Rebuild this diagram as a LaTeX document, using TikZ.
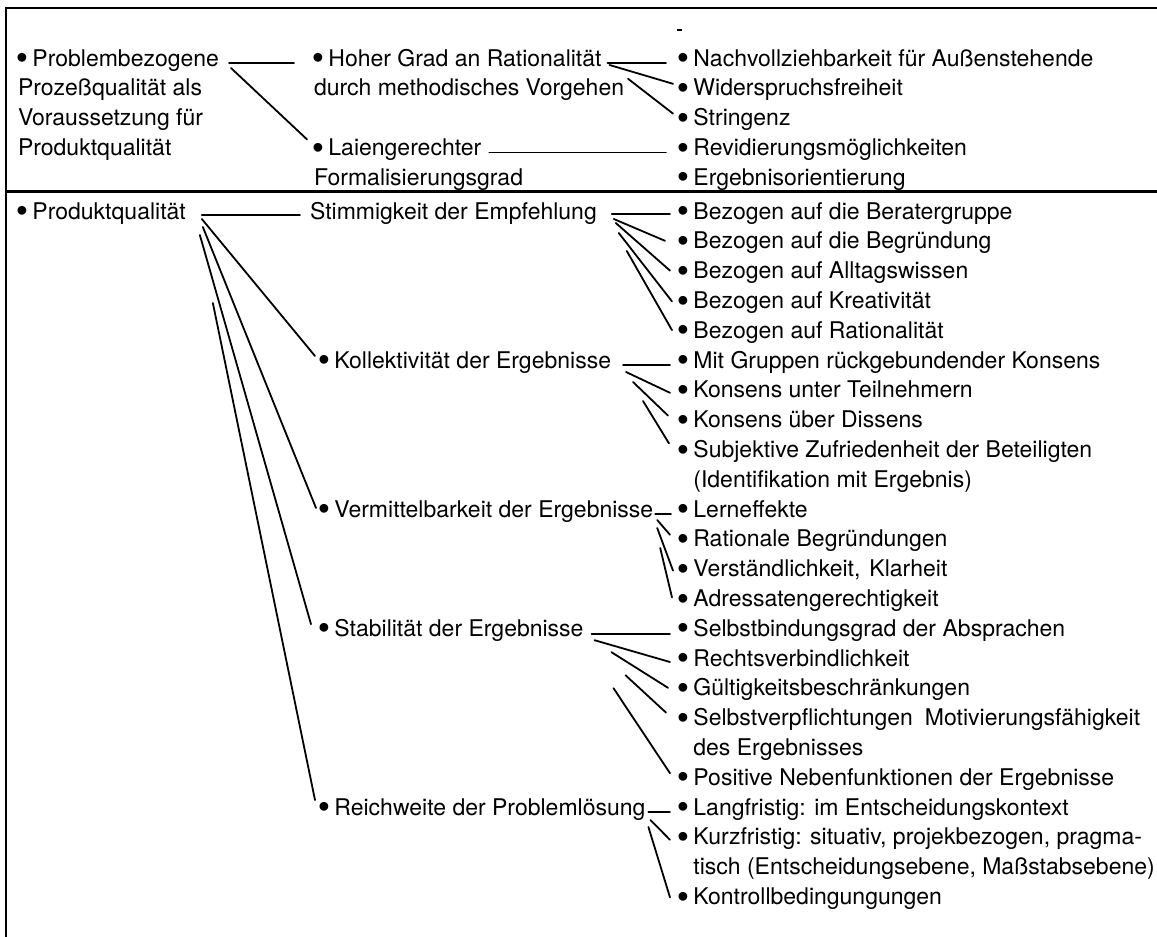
\documentclass[tikz,border=0pt]{standalone}
\usepackage{graphicx}
\usepackage{fontspec}
\setmainfont{TeX Gyre Heros}
\newfontfamily\bulfont{Liberation Sans}
\newcommand\bu{\makebox[8.05pt][c]{\raisebox{-2.6pt}{\scalebox{1.4}{\bulfont •}}}}
\usetikzlibrary{calc}
\begin{document}
\begin{tikzpicture}[x=1pt,y=-1pt,
  txt/.style={anchor=base west,inner sep=0pt,outer sep=0pt,font=\fontsize{23}{28}\selectfont},
  conn/.style={line width=1.8pt,line cap=round},
  frame/.style={line width=1.6pt}]
\useasboundingbox[fill=white] (0,0) rectangle (1157,937);
% frame
\draw[frame] (5,8) -- (1157,8);
\draw[frame] (6,8) -- (6,937);
\draw[line width=3pt] (5,191) -- (1157,191);
\draw[line width=1.2pt] (677,30) -- (682,30);
% ---------- top section ----------
\node[txt] (p1) at (18,66) {\bu{} Problembezogene};
\node[txt] (p2) at (18,95.8) {Prozeßqualität als};
\node[txt] (p3) at (18,125.6) {Voraussetzung für};
\node[txt] (p4) at (18,155.4) {Produktqualität};
\node[txt] (h1) at (314,66) {\bu{} Hoher Grad an Rationalität};
\node[txt] (h2) at (314,95.8) {durch methodisches Vorgehen};
\node[txt] (l1) at (314,155.4) {\bu{} Laiengerechter};
\node[txt] (l2) at (314,185.2) {Formalisierungsgrad};
\node[txt] (n1) at (679,66) {\bu{} Nachvollziehbarkeit für Außenstehende};
\node[txt] (n2) at (679,95.8) {\bu{} Widerspruchsfreiheit};
\node[txt] (n3) at (679,125.6) {\bu{} Stringenz};
\node[txt] (n4) at (679,155.4) {\bu{} Revidierungsmöglichkeiten};
\node[txt] (n5) at (679,185.2) {\bu{} Ergebnisorientierung};
\draw[conn] ($(p1.base east)+(10,-3)$) -- ($(h1.base west)+(-20,-3)$);
\draw[conn] ($(p1.base east)+(12,2)$) -- ($(l1.base west)+(-7,-16)$);
\draw[conn] ($(h1.base east)+(6,-3)$) -- ($(n1.base west)+(-13,-3)$);
\draw[conn] ($(h1.base east)+(8,-1)$) -- ($(n2.base west)+(-6,-12)$);
\draw[conn] ($(h2.base east)+(4,-17)$) -- ($(n3.base west)+(-6,-12)$);
\draw[conn] ($(l1.base east)+(8,-3)$) -- ($(n4.base west)+(-13,-3)$);
% ---------- bottom section ----------
\node[txt] (q) at (18,219) {\bu{} Produktqualität};
\node[txt] (s) at (310,219) {Stimmigkeit der Empfehlung};
\node[txt] (k) at (320,368) {\bu{} Kollektivität der Ergebnisse};
\node[txt] (v) at (320,517) {\bu{} Vermittelbarkeit der Ergebnisse};
\node[txt] (st) at (320,636.2) {\bu{} Stabilität der Ergebnisse};
\node[txt] (rw) at (320,815) {\bu{} Reichweite der Problemlösung};
\node[txt] (a0) at (679,219) {\bu{} Bezogen auf die Beratergruppe};
\node[txt] (a1) at (679,248.8) {\bu{} Bezogen auf die Begründung};
\node[txt] (a2) at (679,278.6) {\bu{} Bezogen auf Alltagswissen};
\node[txt] (a3) at (679,308.4) {\bu{} Bezogen auf Kreativität};
\node[txt] (a4) at (679,338.2) {\bu{} Bezogen auf Rationalität};
\node[txt] (a5) at (679,368) {\bu{} Mit Gruppen rückgebundender Konsens};
\node[txt] (a6) at (679,397.8) {\bu{} Konsens unter Teilnehmern};
\node[txt] (a7) at (679,427.6) {\bu{} Konsens über Dissens};
\node[txt] (a8) at (679,457.4) {\bu{} Subjektive Zufriedenheit der Beteiligten};
\node[txt] (a9) at (693.4,487.2) {(Identifikation mit Ergebnis)};
\node[txt] (a10) at (679,517) {\bu{} Lerneffekte};
\node[txt] (a11) at (679,546.8) {\bu{} Rationale Begründungen};
\node[txt] (a12) at (679,576.6) {\bu{} Verständlichkeit,\hspace{9pt}Klarheit};
\node[txt] (a13) at (679,606.4) {\bu{} Adressatengerechtigkeit};
\node[txt] (a14) at (679,636.2) {\bu{} Selbstbindungsgrad der Absprachen};
\node[txt] (a15) at (679,666) {\bu{} Rechtsverbindlichkeit};
\node[txt] (a16) at (679,695.8) {\bu{} Gültigkeitsbeschränkungen};
\node[txt] (a17) at (679,725.6) {\bu{} Selbstverpflichtungen\hspace{12pt}Motivierungsfähigkeit};
\node[txt] (a18) at (693.4,755.4) {des Ergebnisses};
\node[txt] (a19) at (679,785.2) {\bu{} Positive Nebenfunktionen der Ergebnisse};
\node[txt] (a20) at (679,815) {\bu{} Langfristig: im Entscheidungskontext};
\node[txt] (a21) at (679,844.8) {\bu{} Kurzfristig: situativ, projekbezogen, pragma-};
\node[txt] (a22) at (693.4,874.6) {tisch (Entscheidungsebene, Maßstabsebene)};
\node[txt] (a23) at (679,904.4) {\bu{} Kontrollbedingungungen};
% Produktqualitaet
\draw[conn] ($(q.base east)+(16,-4)$) -- ($(s.base west)+(-10,-4)$);
\draw[conn] ($(q.base east)+(16,0)$) -- ($(k.base west)+(-5,-12)$);
\draw[conn] ($(q.base east)+(17,8)$) -- ($(v.base west)+(-4,-9)$);
\draw[conn] ($(q.base east)+(14,16)$) -- ($(st.base west)+(-9,-12)$);
\draw[conn] ($(q.base east)+(27,84)$) -- ($(rw.base west)+(-5,-15)$);
% Stimmigkeit
\draw[conn] ($(s.base east)+(15,-5)$) -- ($(a0.base west)+(-9,-5)$);
\draw[conn] ($(s.base east)+(17,0)$) -- ($(a1.base west)+(-14,-8)$);
\draw[conn] ($(s.base east)+(19,4)$) -- ($(a2.base west)+(-9,-8)$);
\draw[conn] ($(s.base east)+(22,14)$) -- ($(a3.base west)+(-7,-7)$);
\draw[conn] ($(s.base east)+(30,32)$) -- ($(a4.base west)+(-7,-8)$);
% Kollektivitaet
\draw[conn] ($(k.base east)+(12,-3)$) -- ($(a5.base west)+(-9,-3)$);
\draw[conn] ($(k.base east)+(15,4)$) -- ($(a6.base west)+(-9,-5)$);
\draw[conn] ($(k.base east)+(22,14)$) -- ($(a7.base west)+(-11,-12)$);
\draw[conn] ($(k.base east)+(32,33)$) -- ($(a8.base west)+(-10,-14)$);
% Vermittelbarkeit
\draw[conn] ($(v.base east)+(2,-3)$) -- ($(a10.base west)+(-8,-3)$);
\draw[conn] ($(v.base east)+(4,3)$) -- ($(a11.base west)+(-9,-12)$);
\draw[conn] ($(v.base east)+(4,11)$) -- ($(a12.base west)+(-6,-6)$);
\draw[conn] ($(v.base east)+(7,31)$) -- ($(a13.base west)+(-7,-9)$);
% Stabilitaet
\draw[conn] ($(st.base east)+(8,-2)$) -- ($(a14.base west)+(-9,-2)$);
\draw[conn] ($(st.base east)+(11,4)$) -- ($(a15.base west)+(-9,-4)$);
\draw[conn] ($(st.base east)+(28,16)$) -- ($(a16.base west)+(-11,-8)$);
\draw[conn] ($(st.base east)+(42,39)$) -- ($(a17.base west)+(-13,-13)$);
\draw[conn] ($(st.base east)+(30,52)$) -- ($(a19.base west)+(-9,-12)$);
% Reichweite
\draw[conn] ($(rw.base east)+(3,-3)$) -- ($(a20.base west)+(-9,-3)$);
\draw[conn] ($(rw.base east)+(5,5)$) -- ($(a21.base west)+(-9,-5)$);
\draw[conn] ($(rw.base east)+(3,12)$) -- ($(a23.base west)+(-9,-7)$);
\end{tikzpicture}
\end{document}
